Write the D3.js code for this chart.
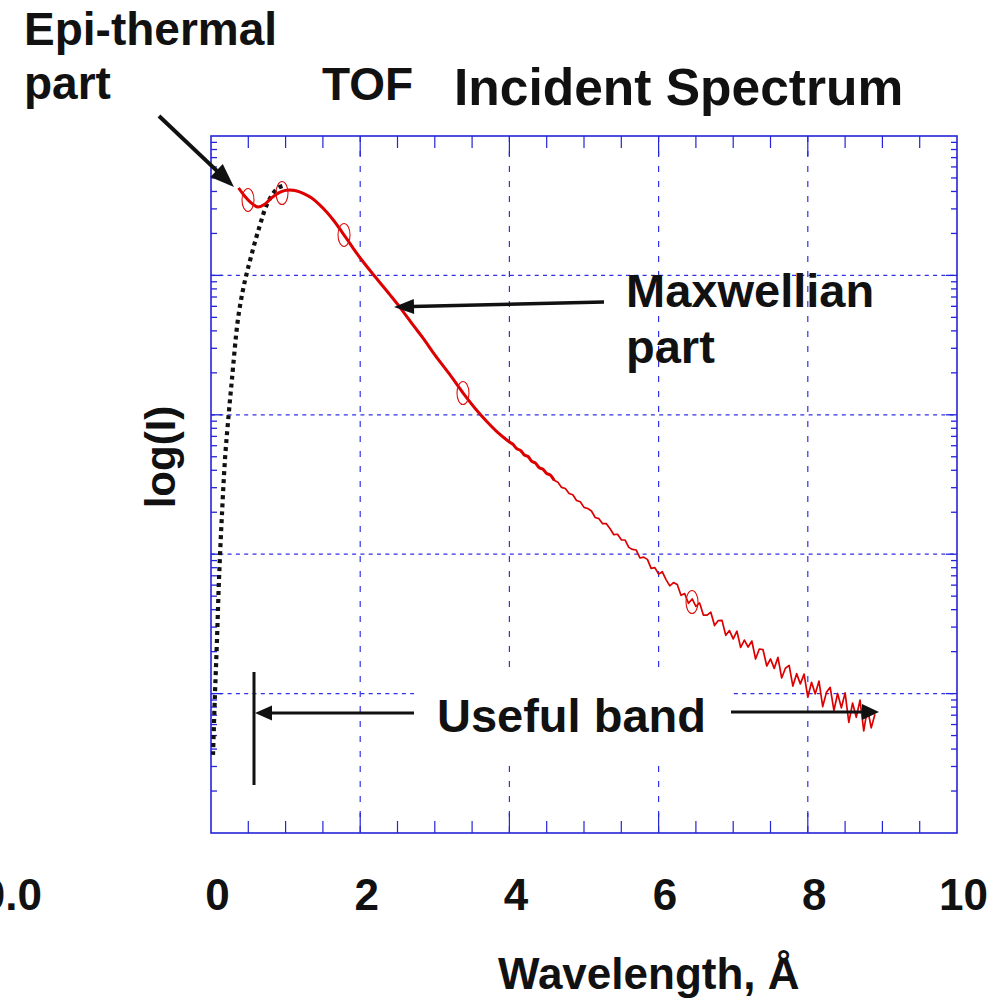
<!DOCTYPE html>
<html><head><meta charset="utf-8">
<script src="https://cdn.jsdelivr.net/npm/d3@7"></script>
<style>
body{margin:0;background:#fff}
text{font-family:"Liberation Sans",Arial,Helvetica,sans-serif;font-weight:bold;fill:#111}
</style>
</head><body>
<svg id="c" width="1008" height="1000"></svg>
<script>
// ---- data (wavelength in Å, log10 intensity) ----
const redLambda=[0.37,0.45,0.55,0.63,0.72,0.82,0.92,1.0,1.06,1.15,1.25,1.35,1.45,1.55,1.65,1.77,1.9,2.0,2.2,2.4,2.53,2.7,2.85,3.0,3.2,3.38,3.55,3.7,3.85,4.0,
4.05,4.10,4.15,4.20,4.25,4.30,4.35,4.40,4.45,4.50,4.55,4.60,4.65,4.70,4.75,4.80,4.85,4.90,4.95,5.00,
5.05,5.10,5.15,5.20,5.25,5.30,5.35,5.40,5.45,5.50,5.55,5.60,5.65,5.70,5.75,5.80,5.85,5.90,5.95,6.00,
6.05,6.10,6.15,6.20,6.25,6.30,6.35,6.40,6.45,6.50,6.55,6.60,6.65,6.70,6.75,6.80,6.85,6.90,6.95,7.00,
7.05,7.10,7.15,7.20,7.25,7.30,7.35,7.40,7.45,7.50,7.55,7.60,7.65,7.70,7.75,7.80,7.85,7.90,7.95,8.00,
8.05,8.10,8.15,8.20,8.25,8.30,8.35,8.40,8.45,8.50,8.55,8.60,8.65,8.70,8.75,8.80,8.85,8.90];
const redLogI=[4.627,4.57,4.515,4.49,4.51,4.56,4.595,4.61,4.612,4.605,4.585,4.555,4.51,4.455,4.39,4.30,4.2,4.125,3.99,3.86,3.773,3.65,3.545,3.43,3.29,3.156,3.04,2.95,2.87,2.805,
2.787,2.756,2.744,2.712,2.701,2.666,2.653,2.620,2.610,2.579,2.567,2.530,2.516,2.479,2.471,2.436,2.426,2.385,2.376,2.336,
2.328,2.310,2.263,2.255,2.219,2.219,2.183,2.140,2.143,2.103,2.102,2.049,2.034,2.030,1.973,1.979,1.963,1.898,1.904,1.857,
1.874,1.818,1.773,1.796,1.783,1.705,1.717,1.648,1.679,1.626,1.650,1.563,1.563,1.584,1.488,1.524,1.525,1.418,1.452,1.392,
1.448,1.331,1.384,1.334,1.377,1.248,1.320,1.315,1.198,1.249,1.181,1.260,1.112,1.182,1.202,1.054,1.143,1.070,1.140,0.974,
1.081,0.998,1.090,0.907,1.009,1.045,0.879,1.001,0.898,1.005,0.793,0.932,0.830,0.953,0.732,0.895,0.754,0.852];
const dotLambda=[0.027,0.05,0.08,0.107,0.143,0.19,0.24,0.28,0.36,0.43,0.497,0.648,0.765,0.898,1.005];
const dotLogI=[0.56,0.95,1.38,1.815,2.245,2.70,3.02,3.25,3.68,3.90,4.053,4.347,4.527,4.627,4.648];
const markerLambda=[0.496,0.952,1.783,3.378,6.448];
const markerLogI=[4.541,4.591,4.29,3.156,1.657];
const xTickValues=[0,2,4,6,8,10];
const xTickLabels=["0","2","4","6","8","10"];
const decades=[0,1,2,3,4,5];

const svg=d3.select("#c");
const L=211,R=957,T=136,B=833;
const x=d3.scaleLinear().domain([0,10]).range([L,R]);
const y=d3.scaleLinear().domain([0,5]).range([B,T]);
const blue="#2424d8", grid="#3030e8";

// gridlines
svg.append("g").selectAll("line").data([2,4,6,8]).join("line")
  .attr("x1",d=>x(d)).attr("x2",d=>x(d)).attr("y1",T).attr("y2",B)
  .attr("stroke",grid).attr("stroke-width",1.2).attr("stroke-dasharray","6,9");
svg.append("g").selectAll("line").data([1,2,3,4]).join("line")
  .attr("x1",L).attr("x2",R).attr("y1",d=>y(d)).attr("y2",d=>y(d))
  .attr("stroke",grid).attr("stroke-width",1.2).attr("stroke-dasharray","4,4.3");

// white box behind "Useful band"
svg.append("rect").attr("x",414).attr("y",675).attr("width",317).attr("height",83).attr("fill","#fff");

// x ticks (inward) top & bottom
const xMinor=d3.range(0.5,10,0.5);
[ [B,-1],[T,1] ].forEach(([yy,dir])=>{
  svg.append("g").selectAll("line").data(xMinor).join("line")
    .attr("x1",d=>x(d)).attr("x2",d=>x(d)).attr("y1",yy)
    .attr("y2",d=>yy+dir*(d%2===0?20:12))
    .attr("stroke",blue).attr("stroke-width",1.2);
});
// y ticks (log minor) left & right
const yTicks=[];
decades.slice(0,5).forEach(n=>{for(let m=2;m<=9;m++)yTicks.push({v:n+Math.log10(m),major:false});});
[1,2,3,4].forEach(n=>yTicks.push({v:n,major:true}));
[[L,1],[R,-1]].forEach(([xx,dir])=>{
  svg.append("g").selectAll("line").data(yTicks).join("line")
    .attr("x1",xx).attr("x2",d=>xx+dir*(d.major?11:6))
    .attr("y1",d=>y(d.v)).attr("y2",d=>y(d.v))
    .attr("stroke",blue).attr("stroke-width",1.3);
});
// frame
svg.append("rect").attr("x",L).attr("y",T).attr("width",R-L).attr("height",B-T)
  .attr("fill","none").attr("stroke",blue).attr("stroke-width",1.6);

// x tick labels
const xAxis=d3.axisBottom(x).tickValues(xTickValues).tickSize(0).tickPadding(46)
  .tickFormat((d,i)=>xTickLabels[i]);
const gx=svg.append("g").attr("transform",`translate(0,${B})`).call(xAxis);
gx.select(".domain").remove();
gx.selectAll("text").attr("font-size",44).attr("dx",6)
  .style("font-family","'Liberation Sans',Arial,sans-serif").style("font-weight","bold").attr("fill","#111");

// black dotted curve
const dotData=dotLambda.map((d,i)=>[d,dotLogI[i]]);
svg.append("path").datum(dotData)
  .attr("d",d3.line().x(d=>x(d[0])).y(d=>y(d[1])).curve(d3.curveCatmullRom))
  .attr("fill","none").attr("stroke","#111").attr("stroke-width",4.2).attr("stroke-dasharray","4,4");

// red spectrum
const redData=redLambda.map((d,i)=>[d,redLogI[i]]);
svg.append("path").datum(redData)
  .attr("d",d3.line().x(d=>x(d[0])).y(d=>y(d[1])))
  .attr("fill","none").attr("stroke","#dd0000").attr("stroke-width",1.7).attr("stroke-linejoin","round");
svg.append("path").datum(redData.filter(d=>d[0]<=4.6))
  .attr("d",d3.line().x(d=>x(d[0])).y(d=>y(d[1])).curve(d3.curveCatmullRom))
  .attr("fill","none").attr("stroke","#dd0000").attr("stroke-width",3);

// markers
svg.append("g").selectAll("ellipse").data(markerLambda).join("ellipse")
  .attr("cx",d=>x(d)).attr("cy",(d,i)=>y(markerLogI[i])).attr("rx",6).attr("ry",11.5)
  .attr("fill","none").attr("stroke","#e01010").attr("stroke-width",1.1);

// arrows
function arrow(x1,y1,x2,y2,w,hl,hw){
  const a=Math.atan2(y2-y1,x2-x1);
  const bx=x2-hl*Math.cos(a), by=y2-hl*Math.sin(a);
  svg.append("line").attr("x1",x1).attr("y1",y1).attr("x2",bx+2*Math.cos(a)).attr("y2",by+2*Math.sin(a))
    .attr("stroke","#111").attr("stroke-width",w);
  const px=-Math.sin(a)*hw/2, py=Math.cos(a)*hw/2;
  svg.append("polygon").attr("points",`${x2},${y2} ${bx+px},${by+py} ${bx-px},${by-py}`).attr("fill","#111");
}
arrow(159,116,234,187,4,24,18);
arrow(604,302,394,307,3.5,20,15);
arrow(414,713,255,713,3,17,15);
arrow(731,712,879,712,3,17,16);
svg.append("line").attr("x1",254).attr("x2",254).attr("y1",672).attr("y2",785)
  .attr("stroke","#111").attr("stroke-width",3);

// texts
function txt(s,xx,yy,fs,anchor){return svg.append("text").attr("x",xx).attr("y",yy).attr("font-size",fs).attr("text-anchor",anchor||"start").text(s);}
txt("Epi-thermal",24,45,46);
txt("part",24,99,46);
txt("TOF",322,100,46);
txt("Incident Spectrum",454,105,51.5);
txt("Maxwellian",626,307,47);
txt("part",626,363,47);
txt("Useful band",437,732,47);
txt("Wavelength, Å",498,989,44);
txt("0.0",42,910,44,"end");
svg.append("text").attr("transform","translate(175,457) rotate(-90)").attr("text-anchor","middle")
  .attr("font-size",42).text("log(I)");
</script>
</body></html>
